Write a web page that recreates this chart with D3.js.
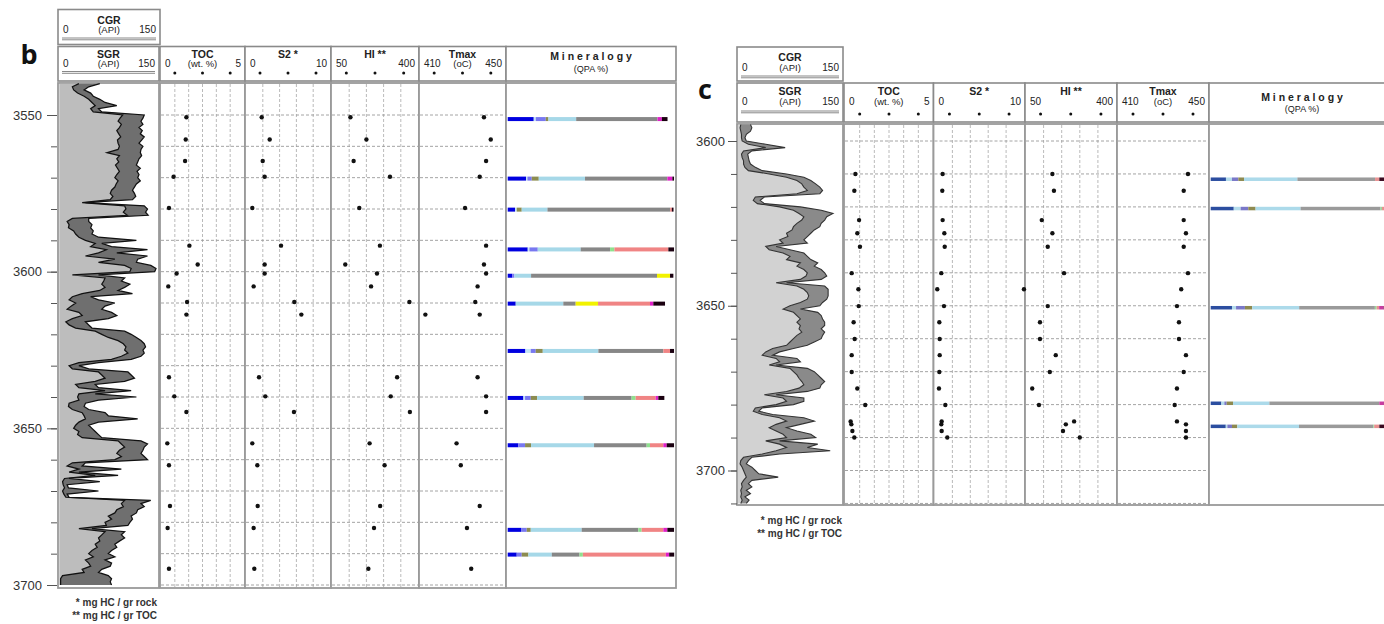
<!DOCTYPE html>
<html>
<head>
<meta charset="utf-8">
<script src="https://cdn.jsdelivr.net/npm/d3@7/dist/d3.min.js"></script>
<style>
html,body{margin:0;padding:0;background:#fff;}
svg{display:block;}
</style>
</head>
<body>
<svg id="chart" width="1384" height="624"></svg>
<script>
// ================= DATA : panel b =================
const grDepthB = d3.range(3540, 3701, 1);
const cgrB = [30,20,22,28,38,45,50,55,48,52,
  97,93,90,95,92,88,91,94,89,90,
  92,90,73,92,88,91,86,89,92,88,
  85,90,87,85,80,78,82,78,35,100,
  102,98,104,20,12,15,14,22,25,30,
  40,55,48,72,60,40,85,60,100,110,
  108,20,70,68,65,70,62,35,20,15,
  25,18,12,30,35,20,10,15,25,55,
  65,75,90,98,102,100,105,95,80,30,
  15,20,60,65,70,55,25,30,70,30,
  28,30,15,14,20,35,38,40,30,25,
  22,30,28,35,90,95,100,92,88,95,
  85,20,12,30,15,55,8,5,6,8,
  5,7,10,100,95,98,88,85,75,80,
  70,72,30,70,65,60,62,55,58,50,
  45,52,40,45,48,35,38,5,2,2,
  2];
const sgrB = [62,45,38,48,52,62,70,88,60,65,
  130,128,125,128,122,127,124,130,126,122,
  128,125,124,126,122,120,118,124,119,122,
  120,124,118,115,112,115,117,112,40,130,
  135,132,136,45,45,50,48,52,50,60,
  118,65,80,135,88,135,120,118,140,148,
  146,60,100,95,108,100,90,112,48,60,
  85,70,65,80,88,75,40,45,50,100,
  110,118,125,130,132,128,130,125,110,60,
  30,45,105,110,115,100,55,60,110,55,
  118,60,40,38,45,70,75,120,60,45,
  50,55,60,65,125,135,130,128,125,130,
  135,40,35,95,30,90,15,62,12,14,
  60,12,15,140,125,130,120,118,110,112,
  108,105,50,100,95,100,92,85,88,80,
  75,85,70,80,78,65,60,75,80,78,
  80];
const sampleDepthB = [3550.7,3557.8,3564.7,3569.7,3579.7,3591.7,3597.7,3600.6,3604.7,3609.7,3613.7,3633.7,3639.8,3644.8,3654.8,3661.8,3674.8,3681.8,3694.8];
const tocB  = [1.53,1.49,1.45,0.76,0.48,1.71,2.21,0.94,0.44,1.57,1.53,0.48,0.80,1.53,0.38,0.48,0.54,0.40,0.48];
const s2B   = [1.87,2.82,1.99,2.22,0.75,4.17,2.22,2.22,0.91,5.75,6.59,1.55,2.30,5.71,0.75,1.35,1.39,0.91,0.99];
const hiB   = [125,190,138,286,161,245,104,233,209,365,430,315,289,367,203,264,246,221,198];
const tmaxB = [440.1,443.3,441.1,438.1,431.2,441.1,440.1,441.1,437.1,436.0,438.1,437.1,441.1,441.1,427.2,429.2,438.1,432.1,434.1];
const mineralDepthB = [3551.3,3570.3,3580.2,3592.9,3601.3,3610.2,3625.3,3640.3,3655.4,3682.4,3690.3];
const mineralPctB = [
  [15.6,1.2,6.0,1.6,16.6,48.7,0,0,0,2.6,3.4],
  [11,0.8,2.6,4.2,27.7,49.3,0,0,0,3,1],
  [4.4,1,0,3,15.4,73.5,0,0,1,0,1],
  [12,1,5,0,25.7,17.6,2.6,0,32.3,0,3.4],
  [2.8,0,1.2,0,10,75.4,0,7.8,0,0,2],
  [4.8,0,0,0,28.5,7.4,0,13.4,31.1,2,7],
  [10.6,3.2,3,4.2,33.3,38.9,0,0,4,0,2.4],
  [9.4,1,3.4,3.8,27.9,28.7,2.4,0,12,1.6,3.6],
  [6.4,0,4,3.6,37.7,31.5,2,0,8,2,4.4],
  [8,0,3.4,2.4,30.5,33.9,2,0,13,2.4,4],
  [5.4,0,3,4,14,16.6,2,0,49.7,2,3]
];
const depthLabelsB = [3550,3600,3650,3700];
const depthTicksB = d3.range(3550, 3701, 10);

// ================= DATA : panel c =================
const grDepthC = d3.range(3595, 3711, 1);
const cgrC = [4,3,4,5,5,
  6,15,40,8,5,6,8,8,10,15,
  45,70,85,92,95,100,85,25,22,28,
  60,80,88,95,92,85,80,78,70,72,
  60,65,40,45,65,75,70,90,85,95,
  100,98,90,55,85,95,100,102,100,90,
  75,65,80,85,90,85,90,88,92,85,
  80,75,70,50,40,35,55,60,45,75,
  80,85,88,92,95,88,70,38,65,70,
  55,25,22,35,60,70,55,45,55,65,
  70,40,60,70,55,35,8,4,3,6,
  8,10,12,8,5,6,4,5,4,6,
  4];
const sgrC = [18,20,18,12,10,
  12,40,68,20,14,15,16,18,25,35,
  70,95,105,112,118,122,118,38,32,38,
  90,120,137,128,125,120,118,110,105,100,
  95,100,55,75,95,100,105,115,110,120,
  125,128,120,70,125,130,130,130,128,122,
  118,90,115,120,122,125,125,120,125,122,
  120,110,100,80,60,50,85,90,55,100,
  110,115,120,125,120,118,100,55,95,95,
  80,35,30,50,95,110,90,70,85,105,
  112,60,115,100,133,60,20,15,12,20,
  25,30,58,20,15,20,12,18,10,16,
  12];
const sampleDepthC = [3610.0,3615.1,3624.0,3628.0,3632.1,3640.1,3645.0,3650.1,3655.0,3660.1,3665.0,3670.1,3675.1,3680.1,3685.1,3686.0,3688.0,3690.0];
const tocC  = [0.59,0.53,0.80,0.70,0.85,0.38,0.76,0.78,0.49,0.55,0.38,0.38,0.70,1.15,0.32,0.36,0.42,0.53];
const s2C   = [0.91,0.87,0.91,1.10,1.14,0.76,0.31,1.06,0.54,0.58,0.58,0.54,0.50,1.21,0.80,0.76,0.80,1.43];
const hiC   = [154,160,113,154,136,199,44,136,106,106,167,144,76,102,238,206,195,260];
const tmaxC = [441.1,439.2,439.2,440.2,439.2,441.1,438.1,436.2,437.1,437.1,440.2,439.2,436.2,435.2,436.2,440.2,440.2,440.2];
const mineralDepthC = [3611.6,3620.5,3650.6,3679.6,3686.6];
const mineralPctC = [
  [8.6,3.4,3.6,3.2,30.1,43.8,0,0,2.4,0,4.9],
  [13,3.9,4.3,4.1,25.4,45.1,0.8,0,1.6,0,1.8],
  [12,2.3,5,4.1,26.5,42.7,1,0,1.4,2.6,2.4],
  [6,1.7,1.3,3.6,20.5,62,0,0,0,2.6,2.3],
  [8.5,0.9,2.6,3,34.8,41.9,0.5,0,2.9,0,4.9]
];
const depthLabelsC = [3600,3650,3700];
const depthTicksC = d3.range(3600, 3711, 10);

// ================= shared labels =================
const mineralNames = ["Quartz","Chert","K-feldspar","Plagioclase","Calcite","Illite/Mica","Chlorite","Dolomite","Kaolinite","Pyrite","Other"];
const trackKeys   = ["gr","toc","s2","hi","tmax","min"];
const trackTitles = ["SGR","TOC","S2 *","HI **","Tmax","M i n e r a l o g y"];
const trackSubs   = ["(API)","(wt. %)","","","(oC)","(QPA %)"];
const trackDomains = {gr:[0,150], toc:[0,5], s2:[0,10], hi:[50,400], tmax:[410,450], min:[0,100]};
const scaleLabels = {gr:["0","150"], toc:["0","5"], s2:["0","10"], hi:["50","400"], tmax:["410","450"]};
const gridValues  = {toc:[5/6,10/6,15/6,20/6,25/6], s2:[2,4,6,8], hi:[120,190,260,330]};
const footnotes = ["* mg HC / gr rock", "** mg HC / gr TOC"];

// ================= layout / style =================
const cfgB = {
  letter:"b", letterX:29, letterY:64,
  cgrBox:[58,160,9.5,44.5], cgrY:{title:23.5, sub:33, uline:38},
  headerY:[46.5,81], hY:{title:57.5, sub:66.5, dots:73, uline:71.5, minTitle:60, minSub:71.5},
  trackY:[83,588], yDom:[3550,3700], yRng:[115,585],
  boxes:{gr:[58,159],toc:[160,245],s2:[245,331],hi:[331,419],tmax:[419,506],min:[506,676]},
  ranges:{gr:[59.3,157.3],toc:[161,244],s2:[246,330],hi:[332,418],tmax:[420,505],min:[507.7,674.7]},
  axisX:57, tickMajor:10, tickMinor:6, tickPad:5,
  footX:157, footY:[606,619], barH:4,
  grFill:["#bdbdbd","#6f6f6f"], grLine:"#111111", grLineW:1.25,
  palette:["#0000e0","#c4e4f4","#7878f0","#8c8c50","#a6d8e8","#878787","#8ee08e","#f2f200","#f08484","#e020c8","#1a0010"],
  data:{grDepth:grDepthB,cgr:cgrB,sgr:sgrB,sd:sampleDepthB,toc:tocB,s2:s2B,hi:hiB,tmax:tmaxB,md:mineralDepthB,mp:mineralPctB,labels:depthLabelsB,ticks:depthTicksB}
};
const cfgC = {
  letter:"c", letterX:705, letterY:99,
  cgrBox:[737,843,47,81], cgrY:{title:61, sub:70.5, uline:76},
  headerY:[83,122], hY:{title:94.5, sub:105, dots:114, uline:111, minTitle:100.5, minSub:112},
  trackY:[124,505], yDom:[3600,3700], yRng:[141,470.5],
  boxes:{gr:[737,843],toc:[844,933.5],s2:[933.5,1025],hi:[1025,1117],tmax:[1117,1209],min:[1209,1395]},
  ranges:{gr:[738,842],toc:[845,933],s2:[934.5,1024],hi:[1025.5,1116],tmax:[1118,1208],min:[1210.7,1388]},
  axisX:737, tickMajor:9, tickMinor:6, tickPad:3,
  footX:842, footY:[524,537], barH:3.5,
  grFill:["#d2d2d2","#8a8a8a"], grLine:"#333333", grLineW:1.1,
  palette:["#2c4ea0","#b4dcec","#7a78c8","#8e8a50","#acdaea","#9a9a9a","#9ad89a","#eaea40","#e89090","#c83ca0","#3a0a20"],
  data:{grDepth:grDepthC,cgr:cgrC,sgr:sgrC,sd:sampleDepthC,toc:tocC,s2:s2C,hi:hiC,tmax:tmaxC,md:mineralDepthC,mp:mineralPctC,labels:depthLabelsC,ticks:depthTicksC}
};

const svg = d3.select("#chart");
const FONT = "'Liberation Sans Narrow','Liberation Sans',Arial,sans-serif";

function drawPanel(cfg, idx) {
  const D = cfg.data;
  const g = svg.append("g");
  const y = d3.scaleLinear().domain(cfg.yDom).range(cfg.yRng);
  const sx = {};
  trackKeys.forEach(k => sx[k] = d3.scaleLinear().domain(trackDomains[k]).range(cfg.ranges[k]));
  const [ty0, ty1] = cfg.trackY;
  const [hy0, hy1] = cfg.headerY;

  g.append("clipPath").attr("id","clip"+idx)
    .append("rect").attr("x",0).attr("y",ty0).attr("width",1384).attr("height",ty1-ty0);

  // panel letter
  g.append("text").attr("x",cfg.letterX).attr("y",cfg.letterY).attr("text-anchor","middle")
    .style("font-family","'Open Sans','Liberation Sans',sans-serif").style("font-weight","bold")
    .style("font-size","27px").attr("fill","#111").text(cfg.letter);

  // ---- CGR header box ----
  const [cx0,cx1,cy0,cy1] = cfg.cgrBox;
  g.append("rect").attr("x",cx0).attr("y",cy0).attr("width",cx1-cx0).attr("height",cy1-cy0)
    .attr("fill","#fff").attr("stroke","#8a8a8a").attr("stroke-width",1.6);
  const cmid = (cx0+cx1)/2;
  g.append("text").attr("x",cmid).attr("y",cfg.cgrY.title).attr("text-anchor","middle")
    .style("font-family",FONT).style("font-size","10.5px").style("font-weight","bold").attr("fill","#222").text("CGR");
  g.append("text").attr("x",cmid).attr("y",cfg.cgrY.sub).attr("text-anchor","middle")
    .style("font-family",FONT).style("font-size","9.5px").attr("fill","#222").text("(API)");
  g.append("text").attr("x",cx0+5).attr("y",cfg.cgrY.sub).style("font-family",FONT).style("font-size","10px").attr("fill","#222").text(scaleLabels.gr[0]);
  g.append("text").attr("x",cx1-4).attr("y",cfg.cgrY.sub).attr("text-anchor","end").style("font-family",FONT).style("font-size","10px").attr("fill","#222").text(scaleLabels.gr[1]);
  [0,1.8].forEach(o => g.append("line").attr("x1",cx0+4).attr("x2",cx1-4).attr("y1",cfg.cgrY.uline+o).attr("y2",cfg.cgrY.uline+o)
    .attr("stroke","#7a7a7a").attr("stroke-width",0.9));

  // ---- header row ----
  trackKeys.forEach((k,i) => {
    const [bx0,bx1] = cfg.boxes[k];
    g.append("rect").attr("x",bx0).attr("y",hy0).attr("width",bx1-bx0).attr("height",hy1-hy0)
      .attr("fill","#fff").attr("stroke","#8a8a8a").attr("stroke-width",1.6);
    const mid = (bx0+bx1)/2;
    if (k === "min") {
      g.append("text").attr("x",mid).attr("y",cfg.hY.minTitle).attr("text-anchor","middle")
        .style("font-family",FONT).style("font-size","10.5px").style("font-weight","bold").attr("fill","#222").text(trackTitles[i]);
      g.append("text").attr("x",mid).attr("y",cfg.hY.minSub).attr("text-anchor","middle")
        .style("font-family",FONT).style("font-size","9px").attr("fill","#222").text(trackSubs[i]);
      return;
    }
    g.append("text").attr("x",mid).attr("y",cfg.hY.title).attr("text-anchor","middle")
      .style("font-family",FONT).style("font-size","10.5px").style("font-weight","bold").attr("fill","#222").text(trackTitles[i]);
    if (trackSubs[i]) g.append("text").attr("x",mid).attr("y",cfg.hY.sub).attr("text-anchor","middle")
      .style("font-family",FONT).style("font-size","9.5px").attr("fill","#222").text(trackSubs[i]);
    g.append("text").attr("x",bx0+5).attr("y",cfg.hY.sub).style("font-family",FONT).style("font-size","10px").attr("fill","#222").text(scaleLabels[k][0]);
    g.append("text").attr("x",bx1-4).attr("y",cfg.hY.sub).attr("text-anchor","end").style("font-family",FONT).style("font-size","10px").attr("fill","#222").text(scaleLabels[k][1]);
    if (k === "gr") {
      [0,1.8].forEach(o => g.append("line").attr("x1",bx0+4).attr("x2",bx1-4).attr("y1",cfg.hY.uline+o).attr("y2",cfg.hY.uline+o)
        .attr("stroke","#7a7a7a").attr("stroke-width",0.9));
    } else {
      const dom = trackDomains[k];
      const dv = [1,3,5].map(f => dom[0] + (dom[1]-dom[0])*f/6);
      g.selectAll(null).data(dv).enter().append("circle")
        .attr("cx",d=>sx[k](d)).attr("cy",cfg.hY.dots).attr("r",1.5).attr("fill","#111");
    }
  });

  // ---- track boxes ----
  trackKeys.forEach(k => {
    const [bx0,bx1] = cfg.boxes[k];
    g.append("rect").attr("x",bx0).attr("y",ty0).attr("width",bx1-bx0).attr("height",ty1-ty0)
      .attr("fill","#fff").attr("stroke","#9a9a9a").attr("stroke-width",1.8);
  });

  // ---- gridlines ----
  const gl = g.append("g").attr("clip-path",`url(#clip${idx})`);
  ["toc","s2","hi"].forEach(k => {
    gl.selectAll(null).data(gridValues[k]).enter().append("line")
      .attr("x1",d=>sx[k](d)).attr("x2",d=>sx[k](d)).attr("y1",ty0+1).attr("y2",ty1-1)
      .attr("stroke","#a8a8a8").attr("stroke-width",0.8).attr("stroke-dasharray","3,2");
  });
  ["toc","s2","hi","tmax"].forEach(k => {
    gl.selectAll(null).data(D.ticks.filter(t => y(t) > ty0+2 && y(t) < ty1-1)).enter().append("line")
      .attr("x1",cfg.boxes[k][0]+1).attr("x2",cfg.boxes[k][1]-1).attr("y1",d=>y(d)).attr("y2",d=>y(d))
      .attr("stroke","#9a9a9a").attr("stroke-width",0.9).attr("stroke-dasharray","3,2");
  });

  // ---- GR track ----
  const rows = D.grDepth.map((d,i) => ({d, c:D.cgr[i], s:D.sgr[i]}));
  const gg = g.append("g").attr("clip-path",`url(#clip${idx})`);
  gg.append("path").datum(rows).attr("fill",cfg.grFill[0])
    .attr("d", d3.area().y(r=>y(r.d)).x0(sx.gr(0)).x1(r=>sx.gr(r.c)));
  gg.append("path").datum(rows).attr("fill",cfg.grFill[1])
    .attr("d", d3.area().y(r=>y(r.d)).x0(r=>sx.gr(r.c)).x1(r=>sx.gr(r.s)));
  ["c","s"].forEach(key => gg.append("path").datum(rows).attr("fill","none").attr("stroke",cfg.grLine)
    .attr("stroke-width",cfg.grLineW).attr("stroke-linejoin","miter")
    .attr("d", d3.line().y(r=>y(r.d)).x(r=>sx.gr(r[key]))));

  // ---- geochemistry points ----
  ["toc","s2","hi","tmax"].forEach(k => {
    g.selectAll(null).data(D.sd.map((d,i)=>({d, v:D[k][i]}))).enter().append("circle")
      .attr("cx",p=>sx[k](p.v)).attr("cy",p=>y(p.d)).attr("r",2.2).attr("fill","#111");
  });

  // ---- mineralogy bars ----
  const mrows = D.md.map((d,i) => { const o = {depth:d}; mineralNames.forEach((m,j)=>o[m]=D.mp[i][j]); return o; });
  const stack = d3.stack().keys(mineralNames)(mrows);
  const color = d3.scaleOrdinal().domain(mineralNames).range(cfg.palette);
  const mg = g.append("g").attr("clip-path",`url(#clip${idx})`);
  stack.forEach(layer => {
    mg.selectAll(null).data(layer).enter().append("rect")
      .attr("x",s=>sx.min(s[0])).attr("width",s=>Math.max(0,sx.min(s[1])-sx.min(s[0])))
      .attr("y",s=>y(s.data.depth)-cfg.barH/2).attr("height",cfg.barH)
      .attr("fill",color(layer.key));
  });

  // ---- depth axis ----
  const axMinor = d3.axisLeft(y).tickValues(D.ticks).tickSize(cfg.tickMinor).tickFormat("");
  const axMajor = d3.axisLeft(y).tickValues(D.labels).tickSize(cfg.tickMajor).tickPadding(cfg.tickPad).tickFormat(d3.format("d"));
  const a1 = g.append("g").attr("transform",`translate(${cfg.axisX},0)`).call(axMinor);
  const a2 = g.append("g").attr("transform",`translate(${cfg.axisX},0)`).call(axMajor);
  [a1,a2].forEach(a => { a.select(".domain").remove(); a.selectAll("line").attr("stroke","#555").attr("stroke-width",1); });
  a2.selectAll("text").style("font-family","'Liberation Sans',Arial,sans-serif").style("font-size","13px").attr("fill","#333");

  // ---- footnotes ----
  footnotes.forEach((t,i) => g.append("text").attr("x",cfg.footX).attr("y",cfg.footY[i]).attr("text-anchor","end")
    .style("font-family","'Liberation Sans',Arial,sans-serif").style("font-size","10px").style("font-weight","bold").attr("fill","#333").text(t));
}

drawPanel(cfgB, 0);
drawPanel(cfgC, 1);
</script>
</body>
</html>
